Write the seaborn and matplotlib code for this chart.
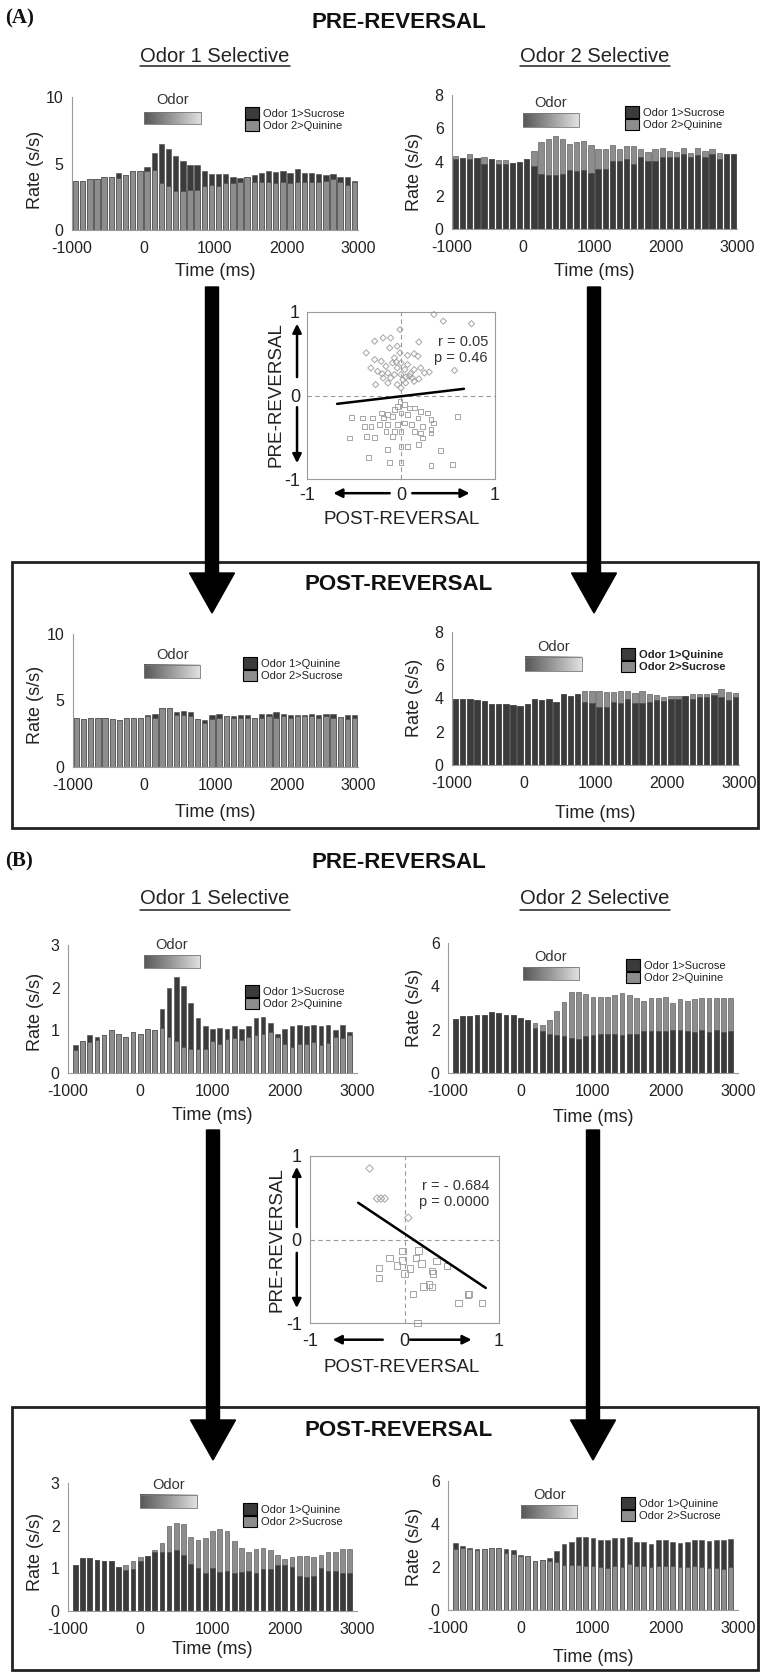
import numpy as np
import matplotlib
matplotlib.use("Agg")
import matplotlib.pyplot as plt
from matplotlib.patches import Patch, Rectangle, FancyArrow
from matplotlib.colors import LinearSegmentedColormap
import seaborn as sns

sns.set_style("white")
plt.rcParams["font.family"] = ["Liberation Sans", "DejaVu Sans"]
plt.rcParams["axes.unicode_minus"] = False

# === Data: bin centres (ms) ===
t_a = [-950, -850, -750, -650, -550, -450, -350, -250, -150, -50,
       50, 150, 250, 350, 450, 550, 650, 750, 850, 950,
       1050, 1150, 1250, 1350, 1450, 1550, 1650, 1750, 1850, 1950,
       2050, 2150, 2250, 2350, 2450, 2550, 2650, 2750, 2850, 2950]
t_b = [-900, -800, -700, -600, -500, -400, -300, -200, -100, 0,
       100, 200, 300, 400, 500, 600, 700, 800, 900, 1000,
       1100, 1200, 1300, 1400, 1500, 1600, 1700, 1800, 1900, 2000,
       2100, 2200, 2300, 2400, 2500, 2600, 2700, 2800, 2900]

# === Data: (A) firing rates (s/s) ===
a_pre_o1_dark = [3.7, 3.7, 3.8, 3.8, 4.0, 3.95, 4.3, 4.1, 4.4, 4.4,
                 4.7, 5.8, 6.5, 6.1, 5.6, 5.2, 4.9, 4.9, 4.4, 4.2,
                 4.2, 4.2, 4.0, 3.9, 3.95, 4.1, 4.3, 4.4, 4.35, 4.4,
                 4.3, 4.6, 4.3, 4.3, 4.2, 4.1, 4.2, 4.0, 4.0, 3.7]
a_pre_o1_light = [3.7, 3.7, 3.8, 3.8, 4.0, 3.95, 3.9, 4.1, 4.4, 4.4,
                  4.4, 4.5, 3.5, 3.3, 2.9, 2.9, 3.0, 3.0, 3.3, 3.4,
                  3.3, 3.5, 3.5, 3.6, 3.95, 3.6, 3.6, 3.6, 3.5, 3.6,
                  3.5, 3.6, 3.6, 3.6, 3.6, 3.7, 3.8, 3.6, 3.4, 3.6]
a_pre_o2_light = [4.38, 4.22, 4.5, 4.22, 4.3, 4.16, 4.1, 4.1, 3.95, 4.0,
                  4.2, 4.68, 5.17, 5.35, 5.55, 5.37, 5.05, 5.2, 5.27, 5.03,
                  4.8, 4.8, 5.0, 4.76, 4.96, 4.96, 4.76, 4.6, 4.76, 4.84,
                  4.68, 4.6, 4.84, 4.56, 4.84, 4.64, 4.76, 4.56, 4.5, 4.45]
a_pre_o2_dark = [4.16, 4.22, 4.18, 4.22, 3.9, 4.16, 3.9, 3.9, 3.95, 4.0,
                 4.16, 3.76, 3.3, 3.2, 3.2, 3.3, 3.5, 3.45, 3.5, 3.36,
                 3.6, 3.6, 4.08, 4.08, 4.16, 3.9, 4.28, 4.08, 4.08, 4.3,
                 4.3, 4.3, 4.48, 4.3, 4.4, 4.28, 4.48, 4.16, 4.45, 4.45]
a_post_o1_dark = [3.65, 3.6, 3.65, 3.65, 3.65, 3.6, 3.55, 3.65, 3.65, 3.65,
                  3.9, 4.0, 4.4, 4.4, 4.1, 4.2, 4.1, 3.6, 3.5, 3.9,
                  4.0, 3.8, 3.85, 3.9, 3.9, 3.7, 4.0, 4.0, 4.1, 3.95,
                  3.9, 3.9, 3.9, 4.0, 3.9, 4.0, 3.95, 3.75, 3.9, 3.9]
a_post_o1_light = [3.65, 3.6, 3.65, 3.65, 3.65, 3.6, 3.55, 3.65, 3.65, 3.65,
                   3.8, 3.7, 4.4, 4.4, 3.9, 3.9, 3.8, 3.6, 3.3, 3.6,
                   3.7, 3.8, 3.7, 3.7, 3.7, 3.7, 3.7, 3.8, 3.7, 3.8,
                   3.7, 3.8, 3.8, 3.8, 3.7, 3.8, 3.7, 3.75, 3.6, 3.7]
a_post_o2_light = [4.0, 4.0, 3.94, 3.9, 3.86, 3.66, 3.66, 3.66, 3.6, 3.54,
                   3.66, 3.94, 3.9, 3.98, 3.8, 4.26, 4.14, 4.26, 4.44, 4.46,
                   4.46, 4.38, 4.38, 4.46, 4.46, 4.34, 4.46, 4.3, 4.2, 4.1,
                   4.14, 4.14, 4.14, 4.3, 4.26, 4.26, 4.34, 4.58, 4.4, 4.34]
a_post_o2_dark = [4.0, 4.0, 3.94, 3.9, 3.86, 3.66, 3.66, 3.66, 3.6, 3.54,
                  3.66, 3.94, 3.9, 3.98, 3.8, 4.26, 4.14, 4.26, 3.8, 3.7,
                  3.46, 3.5, 3.8, 3.7, 3.94, 3.7, 3.74, 3.8, 3.9, 3.86,
                  4.0, 4.0, 4.14, 3.95, 4.1, 4.1, 4.2, 4.1, 3.9, 4.1]

# === Data: (B) firing rates (s/s) ===
b_pre_o1_dark = [0.65, 0.75, 0.9, 0.85, 0.9, 1.0, 0.92, 0.85, 0.97, 0.92,
                 1.03, 1.0, 1.5, 2.0, 2.25, 2.05, 1.65, 1.28, 1.1, 1.02,
                 1.05, 1.02, 1.1, 1.02, 1.1, 1.28, 1.32, 1.18, 0.92, 1.02,
                 1.1, 1.12, 1.1, 1.12, 1.1, 1.12, 1.0, 1.12, 0.95]
b_pre_o1_light = [0.55, 0.75, 0.72, 0.78, 0.9, 1.0, 0.92, 0.85, 0.97, 0.92,
                  1.03, 1.0, 1.05, 0.85, 0.75, 0.6, 0.57, 0.57, 0.57, 0.75,
                  0.68, 0.8, 0.82, 0.78, 0.85, 0.88, 0.92, 0.95, 0.85, 0.68,
                  0.62, 0.68, 0.68, 0.72, 0.65, 0.7, 0.85, 0.82, 0.88]
b_pre_o2_light = [2.5, 2.63, 2.63, 2.68, 2.68, 2.82, 2.78, 2.7, 2.7, 2.52,
                  2.43, 2.3, 2.2, 2.45, 2.85, 3.3, 3.72, 3.72, 3.65, 3.52,
                  3.52, 3.52, 3.62, 3.68, 3.6, 3.45, 3.32, 3.45, 3.45, 3.52,
                  3.25, 3.4, 3.32, 3.4, 3.45, 3.45, 3.45, 3.45, 3.45]
b_pre_o2_dark = [2.5, 2.63, 2.63, 2.68, 2.68, 2.82, 2.78, 2.7, 2.7, 2.52,
                 2.43, 2.1, 1.95, 1.8, 1.75, 1.7, 1.6, 1.55, 1.7, 1.75,
                 1.8, 1.8, 1.8, 1.75, 1.8, 1.8, 1.95, 1.95, 1.95, 1.95,
                 2.0, 2.0, 1.95, 1.9, 2.0, 1.9, 2.0, 1.9, 1.95]
b_post_o1_light = [1.08, 1.25, 1.25, 1.2, 1.18, 1.18, 1.03, 1.08, 1.18, 1.27,
                   1.3, 1.42, 1.6, 2.0, 2.07, 2.03, 1.73, 1.66, 1.7, 1.87,
                   1.93, 1.87, 1.63, 1.48, 1.38, 1.45, 1.48, 1.42, 1.32, 1.22,
                   1.27, 1.3, 1.3, 1.27, 1.32, 1.38, 1.38, 1.45, 1.45]
b_post_o1_dark = [1.08, 1.25, 1.25, 1.2, 1.18, 1.18, 1.03, 0.95, 0.98, 1.18,
                  1.3, 1.38, 1.38, 1.38, 1.42, 1.32, 1.1, 1.0, 0.88, 1.0,
                  0.92, 0.93, 0.9, 0.92, 0.93, 0.88, 0.98, 0.98, 1.08, 1.08,
                  1.02, 0.83, 0.8, 0.83, 1.0, 0.93, 0.93, 0.88, 0.88]
b_post_o2_dark = [3.1, 2.97, 2.9, 2.85, 2.85, 2.9, 2.9, 2.85, 2.78, 2.57,
                  2.5, 2.3, 2.33, 2.4, 2.75, 3.05, 3.17, 3.4, 3.4, 3.33,
                  3.25, 3.25, 3.33, 3.33, 3.4, 3.17, 3.17, 3.05, 3.25, 3.25,
                  3.17, 3.1, 3.17, 3.25, 3.25, 3.2, 3.25, 3.25, 3.3]
b_post_o2_light = [2.85, 2.9, 2.85, 2.8, 2.85, 2.9, 2.9, 2.65, 2.6, 2.5,
                   2.5, 2.3, 2.33, 2.3, 2.25, 2.1, 2.08, 2.08, 2.05, 2.05,
                   2.0, 1.95, 2.05, 2.0, 2.15, 2.05, 2.05, 2.0, 2.05, 2.05,
                   2.05, 2.0, 2.0, 2.05, 2.0, 1.95, 1.95, 1.9, 2.0]

# === Data: selectivity scatter (post vs pre) ===
a_dia_x = [0.35, 0.45, 0.75, -0.01, -0.28, -0.19, -0.11, 0.19, -0.04, -0.37,
           -0.12, -0.01, 0.14, 0.18, -0.28, -0.21, -0.09, 0.0, 0.07, -0.16,
           -0.04, 0.04, 0.14, 0.21, 0.3, 0.57, -0.25, -0.14, -0.07, 0.0,
           0.09, -0.19, -0.11, 0.02, 0.12, 0.19, -0.27, -0.14, -0.04, 0.05,
           0.0, 0.14, -0.32, -0.07, 0.07, 0.1, -0.05, 0.25, -0.2, 0.05]
a_dia_y = [0.97, 0.89, 0.86, 0.79, 0.65, 0.69, 0.69, 0.64, 0.59, 0.51,
           0.57, 0.51, 0.5, 0.47, 0.43, 0.41, 0.39, 0.39, 0.37, 0.35,
           0.33, 0.31, 0.31, 0.33, 0.28, 0.3, 0.29, 0.27, 0.25, 0.25,
           0.23, 0.21, 0.21, 0.19, 0.21, 0.2, 0.13, 0.15, 0.13, 0.15,
           0.09, 0.17, 0.33, 0.45, 0.48, 0.26, 0.4, 0.27, 0.26, 0.22]
a_sq_x = [-0.01, 0.04, -0.04, 0.09, 0.14, -0.07, 0.21, 0.28, -0.21, -0.14,
          0.0, 0.07, -0.53, -0.41, -0.3, -0.19, -0.09, 0.18, 0.32, 0.35,
          0.6, -0.39, -0.32, -0.23, -0.14, -0.04, 0.04, 0.11, 0.23, 0.32,
          -0.16, -0.07, 0.0, 0.14, 0.21, 0.32, -0.37, -0.28, -0.55, -0.09,
          0.23, -0.14, 0.0, 0.07, 0.19, 0.42, -0.35, -0.12, 0.32, 0.55, 0.0]
a_sq_y = [-0.07, -0.11, -0.13, -0.15, -0.15, -0.17, -0.19, -0.21, -0.21, -0.23,
          -0.21, -0.23, -0.26, -0.27, -0.27, -0.27, -0.25, -0.27, -0.29, -0.33,
          -0.25, -0.37, -0.37, -0.35, -0.35, -0.35, -0.33, -0.35, -0.37, -0.41,
          -0.43, -0.43, -0.43, -0.43, -0.45, -0.45, -0.49, -0.5, -0.51, -0.49,
          -0.51, -0.65, -0.61, -0.61, -0.59, -0.66, -0.74, -0.8, -0.84, -0.83, -0.8]
a_fit_x = [-0.68, 0.67]
a_fit_y = [-0.10, 0.08]

b_dia_x = [-0.37, -0.29, -0.25, -0.21, 0.04]
b_dia_y = [0.85, 0.49, 0.49, 0.49, 0.26]
b_sq_x = [-0.02, 0.15, -0.16, -0.02, 0.12, 0.18, 0.34, -0.27, -0.08, 0.06,
          0.0, -0.27, 0.29, 0.30, 0.45, 0.20, 0.26, 0.29, 0.09, 0.57,
          0.67, 0.68, 0.82, 0.14]
b_sq_y = [-0.14, -0.13, -0.22, -0.25, -0.22, -0.29, -0.26, -0.34, -0.31, -0.35,
          -0.41, -0.46, -0.38, -0.41, -0.32, -0.56, -0.54, -0.57, -0.65, -0.76,
          -0.66, -0.65, -0.76, -1.0]
b_fit_x = [-0.49, 0.86]
b_fit_y = [0.44, -0.58]

labels_pre = ["Odor 1>Sucrose", "Odor 2>Quinine"]
labels_post = ["Odor 1>Quinine", "Odor 2>Sucrose"]

# === Styles ===
W, H = 760, 1672
DARK = "#3b3b3b"
LIGHT = "#8d8d8d"
EDGE = "#4a4a4a"
AXC = "#9a9a9a"
TXT = "#222222"
PT = "#a5a5a5"
ODOR_CMAP = LinearSegmentedColormap.from_list("odor", ["#575757", "#9a9a9a", "#e2e2e2"])
GRAD = np.linspace(0, 1, 256).reshape(1, -1)

fig = plt.figure(figsize=(W / 100, H / 100), dpi=100)

# background axes in pixel coordinates for titles, boxes and big arrows
bg = fig.add_axes([0, 0, 1, 1])
bg.set_xlim(0, W)
bg.set_ylim(H, 0)
bg.axis("off")


def px_axes(box):
    l, t, r, b = box
    ax = fig.add_axes([l / W, 1 - b / H, (r - l) / W, (b - t) / H])
    ax.set_facecolor("none")
    return ax


def to_axes(box, x, y):
    l, t, r, b = box
    return (x - l) / (r - l), 1 - (y - t) / (b - t)


def draw_hist(lay, times, dark, light, back, labels, bar_w, bold_legend=False):
    box = lay["box"]
    ax = px_axes(box)
    layers = [(dark, DARK), (light, LIGHT)]
    if back == "light":
        layers = layers[::-1]
    for vals, col in layers:
        sns.barplot(x=times, y=vals, native_scale=True, width=bar_w, color=col,
                    saturation=1, edgecolor=EDGE, linewidth=0.4, errorbar=None, ax=ax)

    x0, x1, y0, y1, ytxt = lay["odor"]
    ax.imshow(GRAD, extent=(x0, x1, y0, y1), aspect="auto", cmap=ODOR_CMAP, zorder=3)
    ax.add_patch(Rectangle((x0, y0), x1 - x0, y1 - y0, fill=False, ec="#777777", lw=0.6, zorder=4))
    ax.text((x0 + x1) / 2, ytxt, "Odor", ha="center", va="center", fontsize=10.5, color="#333333")

    ax.set_xlim(-1000, 3000)
    ax.set_ylim(0, lay["ymax"])
    ax.set_xticks([-1000, 0, 1000, 2000, 3000])
    ax.set_yticks(lay["yticks"])
    for side in ["top", "right"]:
        ax.spines[side].set_visible(False)
    for side in ["left", "bottom"]:
        ax.spines[side].set_color(AXC)
        ax.spines[side].set_linewidth(0.8)
    ax.tick_params(length=3, width=0.8, color=AXC, labelsize=11.5, labelcolor=TXT)
    ax.tick_params(axis="x", pad=5)
    ax.tick_params(axis="y", pad=3)

    ax.set_xlabel("Time (ms)", fontsize=13, color=TXT, va="center")
    ax.xaxis.set_label_coords(0.5, to_axes(box, 0, lay["xlab_y"])[1])
    ax.set_ylabel("Rate (s/s)", fontsize=13, color=TXT, va="center")
    ax.yaxis.set_label_coords(*to_axes(box, *lay["ylab"]))

    handles = [Patch(fc=DARK, ec="black", lw=0.8), Patch(fc=LIGHT, ec="black", lw=0.8)]
    leg = ax.legend(handles, labels, loc="upper left",
                    bbox_to_anchor=to_axes(box, *lay["legend"]), frameon=False,
                    fontsize=8, handlelength=1.25, handleheight=1.25, handletextpad=0.4,
                    labelspacing=0.08, borderpad=0, borderaxespad=0)
    for txt in leg.get_texts():
        txt.set_color(TXT)
        if bold_legend:
            txt.set_fontweight("bold")
    return ax


def draw_scatter(lay, dx, dy, sx, sy, fx, fy, stats, s_sq, s_di):
    box = lay["box"]
    ax = px_axes(box)
    ax.axhline(0, color=AXC, lw=0.8, ls=(0, (4, 3)), zorder=1)
    ax.axvline(0, color=AXC, lw=0.8, ls=(0, (4, 3)), zorder=1)
    sns.scatterplot(x=sx, y=sy, marker="s", s=s_sq, facecolor="none", edgecolor=PT,
                    linewidth=0.7, clip_on=False, zorder=2, ax=ax)
    sns.scatterplot(x=dx, y=dy, marker="D", s=s_di, facecolor="none", edgecolor=PT,
                    linewidth=0.7, clip_on=False, zorder=2, ax=ax)
    sns.lineplot(x=fx, y=fy, color="black", linewidth=1.8, ax=ax, zorder=3)
    ax.set_xlim(-1, 1)
    ax.set_ylim(-1, 1)
    ax.set_xticks([-1, 0, 1])
    ax.set_yticks([-1, 0, 1])
    for side in ax.spines.values():
        side.set_color(AXC)
        side.set_linewidth(0.8)
    ax.tick_params(length=0, labelsize=13, labelcolor=TXT)
    ax.tick_params(axis="x", pad=lay["xpad"])
    ax.tick_params(axis="y", pad=lay["ypad"])

    ax.set_xlabel("POST-REVERSAL", fontsize=13.5, color=TXT, va="center")
    ax.xaxis.set_label_coords(*to_axes(box, *lay["xlab"]))
    ax.set_ylabel("PRE-REVERSAL", fontsize=13.5, color=TXT, va="center")
    ax.yaxis.set_label_coords(*to_axes(box, *lay["ylab"]))

    sx_px, sy_px = lay["stats"]
    for i, line in enumerate(stats):
        ax.text(*to_axes(box, sx_px, sy_px + i * 16), line, transform=ax.transAxes,
                ha="right", va="center", fontsize=10.5, color="#333333")

    for start, end in lay["arrows"]:
        ax.annotate("", xy=end, xytext=start, xycoords="data", annotation_clip=False,
                    arrowprops=dict(arrowstyle="-|>", color="black", lw=1.8,
                                    mutation_scale=13, shrinkA=0, shrinkB=0))
    return ax


# === Layout (pixel positions) ===
hist_a = [
    dict(box=(72, 97, 358, 230), ymax=10, yticks=[0, 5, 10], legend=(245, 107),
         odor=(0, 800, 8.0, 8.9, 9.75), xlab_y=272, ylab=(35, 170)),
    dict(box=(452, 95, 737, 229), ymax=8, yticks=[0, 2, 4, 6, 8], legend=(625, 106),
         odor=(0, 780, 6.1, 6.9, 7.5), xlab_y=272, ylab=(415, 172)),
    dict(box=(73, 634, 358, 767), ymax=10, yticks=[0, 5, 10], legend=(243, 657),
         odor=(0, 785, 6.7, 7.7, 8.4), xlab_y=813, ylab=(35, 705)),
    dict(box=(452, 632, 739, 765), ymax=8, yticks=[0, 2, 4, 6, 8], legend=(621, 648),
         odor=(20, 810, 5.65, 6.5, 7.1), xlab_y=813, ylab=(415, 698)),
]
hist_b = [
    dict(box=(68, 945, 357, 1073), ymax=3, yticks=[0, 1, 2, 3], legend=(245, 985),
         odor=(50, 830, 2.46, 2.76, 3.0), xlab_y=1115, ylab=(35, 1012)),
    dict(box=(448, 943, 738, 1073), ymax=6, yticks=[0, 2, 4, 6], legend=(626, 959),
         odor=(30, 810, 4.3, 4.9, 5.35), xlab_y=1117, ylab=(415, 1008)),
    dict(box=(68, 1483, 357, 1611), ymax=3, yticks=[0, 1, 2, 3], legend=(243, 1503),
         odor=(0, 790, 2.41, 2.72, 2.95), xlab_y=1650, ylab=(35, 1552)),
    dict(box=(448, 1481, 738, 1610), ymax=6, yticks=[0, 2, 4, 6], legend=(621, 1497),
         odor=(10, 780, 4.28, 4.88, 5.35), xlab_y=1658, ylab=(415, 1547)),
]
scat_a = dict(box=(307, 312, 495, 479), xlab=(402, 520), ylab=(276, 395), stats=(488, 342),
              xpad=6, ypad=5,
              arrows=[((-1.106, 0.22), (-1.106, 0.86)), ((-1.106, -0.14), (-1.106, -0.81)),
                      ((-0.12, -1.17), (-0.72, -1.17)), ((0.12, -1.17), (0.73, -1.17))])
scat_b = dict(box=(310, 1156, 499, 1323), xlab=(402, 1367), ylab=(277, 1240), stats=(489, 1186),
              xpad=7, ypad=6,
              arrows=[((-1.14, 0.15), (-1.14, 0.87)), ((-1.14, -0.16), (-1.14, -0.82)),
                      ((-0.23, -1.2), (-0.76, -1.2)), ((0.06, -1.2), (0.71, -1.2))])

# === Frames, headings and big arrows ===
bg.add_patch(Rectangle((12, 562), 746, 266, fill=False, ec=TXT, lw=2))
bg.add_patch(Rectangle((12, 1407), 746, 263, fill=False, ec=TXT, lw=2))
for cx, y0, y1 in [(212, 287, 613), (594, 287, 613), (213, 1130, 1460), (593, 1130, 1460)]:
    bg.add_patch(FancyArrow(cx, y0, 0, y1 - y0, width=13, head_width=45, head_length=40,
                            length_includes_head=True, fc="black", ec="black"))

bg.text(5, 18, "(A)", ha="left", va="center", fontsize=15, fontweight="bold",
        family=["Liberation Serif", "DejaVu Serif"], color="#111111")
bg.text(5, 861, "(B)", ha="left", va="center", fontsize=15, fontweight="bold",
        family=["Liberation Serif", "DejaVu Serif"], color="#111111")
for y in [22, 863]:
    bg.text(399, y, "PRE-REVERSAL", ha="center", va="center", fontsize=16,
            fontweight="bold", color="#111111")
for y in [585, 1430]:
    bg.text(399, y, "POST-REVERSAL", ha="center", va="center", fontsize=16,
            fontweight="bold", color="#111111")
for ytxt, yline in [(57, 66), (899, 910)]:
    for cx, name in [(215, "Odor 1 Selective"), (595, "Odor 2 Selective")]:
        bg.text(cx, ytxt, name, ha="center", va="center", fontsize=14.5, color=TXT)
        bg.plot([cx - 75, cx + 75], [yline, yline], color=TXT, lw=1.1)

# === Panels ===
draw_hist(hist_a[0], t_a, a_pre_o1_dark, a_pre_o1_light, "dark", labels_pre, 0.75)
draw_hist(hist_a[1], t_a, a_pre_o2_dark, a_pre_o2_light, "light", labels_pre, 0.75)
draw_hist(hist_a[2], t_a, a_post_o1_dark, a_post_o1_light, "dark", labels_post, 0.75)
draw_hist(hist_a[3], t_a, a_post_o2_dark, a_post_o2_light, "light", labels_post, 0.75, bold_legend=True)
draw_scatter(scat_a, a_dia_x, a_dia_y, a_sq_x, a_sq_y, a_fit_x, a_fit_y,
             ["r = 0.05", "p = 0.46"], 12, 10)

draw_hist(hist_b[0], t_b, b_pre_o1_dark, b_pre_o1_light, "dark", labels_pre, 0.65)
draw_hist(hist_b[1], t_b, b_pre_o2_dark, b_pre_o2_light, "light", labels_pre, 0.65)
draw_hist(hist_b[2], t_b, b_post_o1_dark, b_post_o1_light, "light", labels_post, 0.65)
draw_hist(hist_b[3], t_b, b_post_o2_dark, b_post_o2_light, "dark", labels_post, 0.65)
draw_scatter(scat_b, b_dia_x, b_dia_y, b_sq_x, b_sq_y, b_fit_x, b_fit_y,
             ["r = - 0.684", "p = 0.0000"], 22, 15)

fig.savefig("out.png", dpi=100)
plt.close(fig)
